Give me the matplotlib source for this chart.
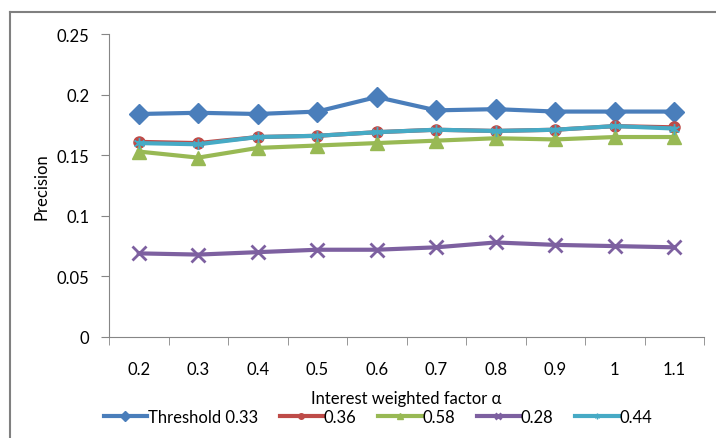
import matplotlib
matplotlib.use("Agg")
import matplotlib.pyplot as plt
from matplotlib.lines import Line2D

plt.rcParams['font.family'] = ['Lato', 'DejaVu Sans']

# data
alpha_labels = ['0.2', '0.3', '0.4', '0.5', '0.6', '0.7', '0.8', '0.9', '1', '1.1']
thr_033 = [0.184, 0.185, 0.184, 0.186, 0.198, 0.187, 0.188, 0.186, 0.186, 0.186]
thr_036 = [0.161, 0.160, 0.165, 0.166, 0.169, 0.171, 0.170, 0.171, 0.174, 0.173]
thr_058 = [0.153, 0.148, 0.156, 0.158, 0.160, 0.162, 0.164, 0.163, 0.165, 0.165]
thr_028 = [0.069, 0.068, 0.070, 0.072, 0.072, 0.074, 0.078, 0.076, 0.075, 0.074]
thr_044 = [0.160, 0.159, 0.165, 0.166, 0.169, 0.171, 0.170, 0.171, 0.174, 0.172]

series = [
    ('Threshold 0.33', thr_033, '#4A7EBB', 'D', 10),
    ('0.36', thr_036, '#BE4B48', 'o', 8),
    ('0.58', thr_058, '#98B954', '^', 10),
    ('0.28', thr_028, '#7D60A0', 'x', 10),
    ('0.44', thr_044, '#46AAC5', (6, 2, 0), 8),
]

fig = plt.figure(figsize=(7.16, 4.39), dpi=100)
ax = fig.add_axes([109 / 716, 1 - 338 / 439, 595 / 716, 303 / 439])

x = list(range(len(alpha_labels)))
for name, vals, col, mk, ms in series:
    ax.plot(x, vals, color=col, lw=3, marker=mk, markersize=ms,
            markeredgewidth=2 if mk == 'x' else 1, markeredgecolor=col,
            label=name)

ax.set_ylim(0, 0.25)
ax.set_yticks([0, 0.05, 0.1, 0.15, 0.2, 0.25])
ax.set_yticklabels(['0', '0.05', '0.1', '0.15', '0.2', '0.25'])
ax.set_xlim(-0.5, len(alpha_labels) - 0.5)
ax.set_xticks(x)
ax.set_xticklabels(alpha_labels)
ax.set_xticks([i - 0.5 for i in range(len(alpha_labels) + 1)], minor=True)

for s in ['top', 'right']:
    ax.spines[s].set_visible(False)
for s in ['left', 'bottom']:
    ax.spines[s].set_color('#868686')
ax.tick_params(axis='x', which='major', length=0, pad=17, labelsize=12, colors='#000000')
ax.tick_params(axis='x', which='minor', length=6, color='#868686')
ax.tick_params(axis='y', length=6, color='#868686', labelsize=12, pad=8)

ax.set_ylabel('Precision', fontsize=12, labelpad=5)
ax.set_xlabel('Interest weighted factor α', fontsize=12, labelpad=10)

leg = fig.legend(loc='center', bbox_to_anchor=(378 / 716, 1 - 418 / 439), ncol=5,
                 frameon=False, fontsize=12, handlelength=2.6, handletextpad=0.05,
                 columnspacing=1.3, markerscale=0.5)

# outer chart frame (left and top edges visible)
fig.add_artist(Line2D([10 / 716, 10 / 716], [0, 1 - 13 / 439], color='#808080', lw=1.5))
fig.add_artist(Line2D([10 / 716, 1], [1 - 13 / 439, 1 - 13 / 439], color='#808080', lw=1.5))

fig.savefig('out.png', dpi=100)
